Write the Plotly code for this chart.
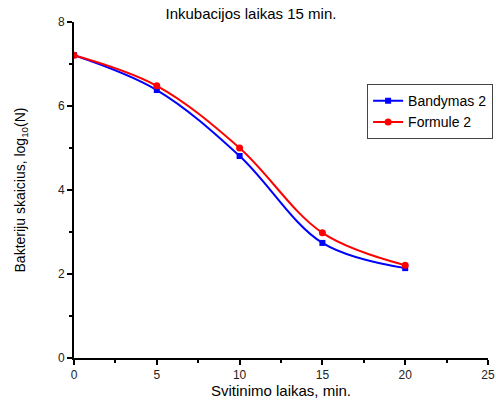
import plotly.graph_objects as go

time_min = [0, 5, 10, 15, 20]
bandymas2 = [7.21, 6.38, 4.81, 2.74, 2.14]
formule2 = [7.21, 6.48, 5.00, 2.98, 2.21]

fig = go.Figure()
fig.add_trace(go.Scatter(x=time_min, y=bandymas2, name="Bandymas 2", mode="lines+markers",
                         line=dict(color="#0000ff", width=2, shape="spline", smoothing=1.0),
                         marker=dict(symbol="square", size=6, color="#0000ff")))
fig.add_trace(go.Scatter(x=time_min, y=formule2, name="Formule 2", mode="lines+markers",
                         line=dict(color="#ff0000", width=2, shape="spline", smoothing=1.0),
                         marker=dict(symbol="circle", size=7, color="#ff0000")))

axis_common = dict(showline=True, linecolor="black", linewidth=2, ticks="outside",
                   ticklen=5, tickwidth=1.5, tickcolor="black", showgrid=False,
                   zeroline=False, mirror=False, automargin=False,
                   tickfont=dict(family="Liberation Sans, Arial", size=12, color="#222"))

fig.update_layout(
    width=496, height=403, autosize=False,
    margin=dict(l=74, r=8, t=22, b=45, autoexpand=False),
    paper_bgcolor="white", plot_bgcolor="white",
    title=dict(text="Inkubacijos laikas 15 min.", xref="container", x=0.506, xanchor="center",
               yref="container", y=0.965, yanchor="middle",
               font=dict(family="Liberation Sans, Arial", size=15, color="black")),
    font=dict(family="Liberation Sans, Arial", color="black"),
    xaxis=dict(range=[0, 25], dtick=5,
               minor=dict(ticks="outside", dtick=2.5, ticklen=3, tickcolor="black"),
               title=dict(text="Svitinimo laikas, min.", standoff=0,
                          font=dict(size=15, family="Liberation Sans, Arial")),
               **axis_common),
    yaxis=dict(range=[0, 8], dtick=2,
               minor=dict(ticks="outside", dtick=1, ticklen=3, tickcolor="black"),
               title=dict(text="Bakterіju skaicius, log<sub>10</sub>(N)", standoff=29,
                          font=dict(size=14, family="Liberation Sans, Arial")),
               **axis_common),
    legend=dict(x=0.708, y=0.815, xanchor="left", yanchor="top",
                bordercolor="#444", borderwidth=1, bgcolor="white",
                font=dict(family="Liberation Sans, Arial", size=14),
                tracegroupgap=0, itemwidth=30),
    showlegend=True,
)

fig.write_html("out.html")
